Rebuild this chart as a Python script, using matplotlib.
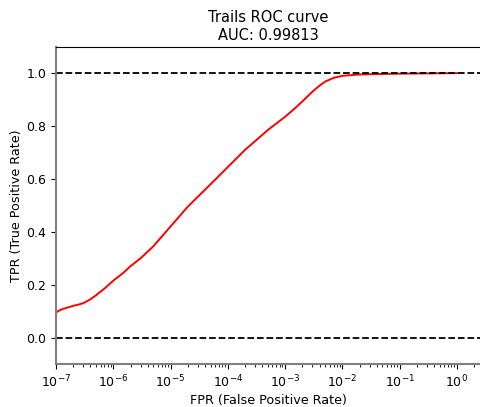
import numpy as np
import matplotlib
matplotlib.use("Agg")
import matplotlib.pyplot as plt

# ROC curve points (false positive rate, true positive rate)
fpr = [1e-7, 1.2e-7, 1.5e-7, 2e-7, 2.5e-7, 3e-7, 4e-7, 5e-7, 7e-7, 1e-6,
       1.5e-6, 2e-6, 3e-6, 5e-6, 1e-5, 2e-5, 5e-5, 1e-4, 2e-4, 5e-4,
       1e-3, 1.5e-3, 2e-3, 3e-3, 4e-3, 5e-3, 7e-3, 1e-2, 2e-2, 5e-2,
       1e-1, 3e-1, 1.0]
tpr = [0.095, 0.105, 0.112, 0.12, 0.125, 0.13, 0.145, 0.16, 0.185, 0.215,
       0.245, 0.27, 0.3, 0.345, 0.42, 0.495, 0.58, 0.645, 0.71, 0.785,
       0.835, 0.868, 0.893, 0.93, 0.953, 0.968, 0.982, 0.99, 0.995, 0.997,
       0.998, 0.999, 1.0]
auc = 0.99813
xticks = [1e-7, 1e-6, 1e-5, 1e-4, 1e-3, 1e-2, 1e-1, 1e0]
yticks = [0.0, 0.2, 0.4, 0.6, 0.8, 1.0]

fig = plt.figure(figsize=(4.81, 4.07), dpi=100)
ax = fig.add_axes([56 / 481, 1 - 364 / 407, 1 - 56 / 481, (364 - 46.7) / 407])

ax.plot(fpr, tpr, color="red", lw=1.4)
ax.axhline(0.0, color="black", ls="--", lw=1.3)
ax.axhline(1.0, color="black", ls="--", lw=1.3)

ax.set_xscale("log")
ax.set_xlim(1e-7, 10 ** 0.42)
ax.set_ylim(-0.1, 1.1)
ax.set_xticks(xticks)
ax.set_yticks(yticks)

ax.set_title("Trails ROC curve\nAUC: %.5f" % auc, fontsize=10.5, pad=5)
ax.set_xlabel("FPR (False Positive Rate)", fontsize=9.2, labelpad=3)
ax.set_ylabel("TPR (True Positive Rate)", fontsize=9.2, labelpad=2)

ax.tick_params(axis="both", which="major", labelsize=9, length=3.5, width=0.8)
ax.tick_params(axis="x", which="minor", length=2, width=0.6)

ax.spines["right"].set_visible(False)
ax.spines["top"].set_linewidth(0.8)
for side in ("left", "bottom"):
    ax.spines[side].set_color("#808080")
    ax.spines[side].set_linewidth(1.5)

fig.savefig("out.png", dpi=100)
